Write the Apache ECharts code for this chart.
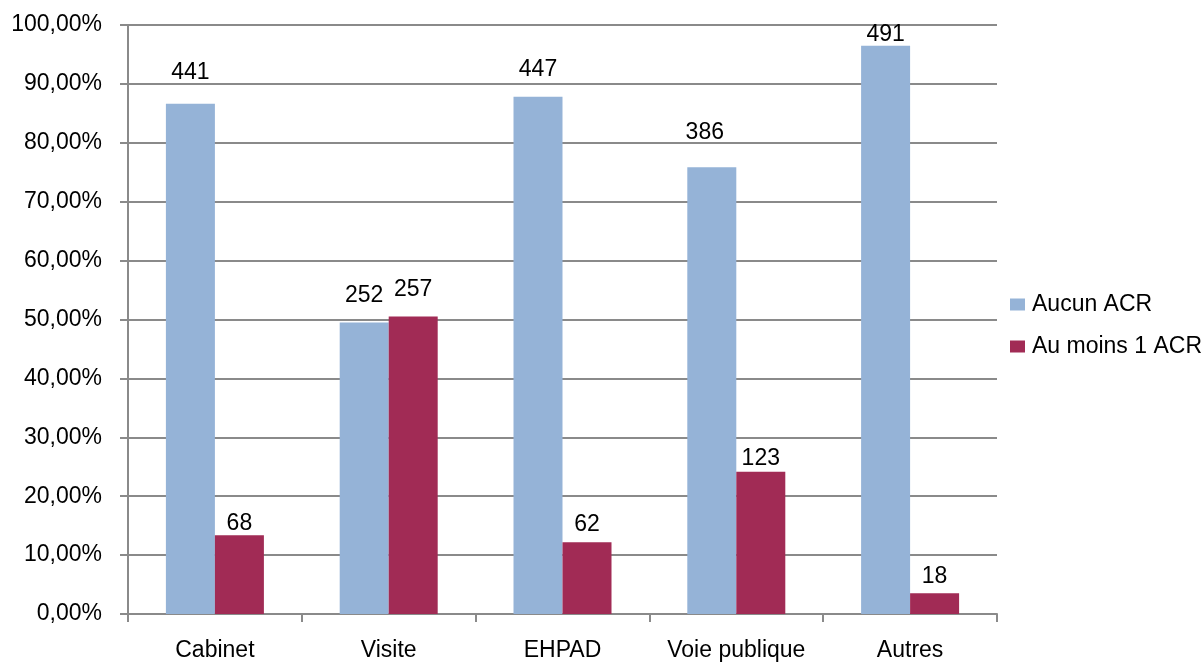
<!DOCTYPE html>
<html>
<head>
<meta charset="utf-8">
<script src="https://cdn.jsdelivr.net/npm/echarts@6/dist/echarts.min.js"></script>
<style>
html,body{margin:0;padding:0;background:#fff;}
#chart{width:1204px;height:662px;}
</style>
</head>
<body>
<div id="chart"></div>
<script>
// ---- data ----
const categories = ['Cabinet', 'Visite', 'EHPAD', 'Voie publique', 'Autres'];
const seriesNames = ['Aucun ACR', 'Au moins 1 ACR'];
const aucunPct = [86.64, 49.51, 87.82, 75.83, 96.46];
const auMoinsPct = [13.36, 50.49, 12.18, 24.17, 3.54];
const aucunCount = [441, 252, 447, 386, 491];
const auMoinsCount = [68, 257, 62, 123, 18];
const yTicks = [0, 10, 20, 30, 40, 50, 60, 70, 80, 90, 100];

// ---- styling (label placement as in the source) ----
const FONT = 'Liberation Sans';
const FS = 23;
const aucunLabelDist = [20, 15, 16, 23, 0];
const aucunLabelDx = [0, 0, 0, -7, 0];
const auMoinsLabelDist = [0.5, 15.5, 6.5, 1.5, 4.5];
const auMoinsLabelDx = [0, 0, 0, 0, 0];

function build(pct, counts, dist, dx) {
  return pct.map((v, i) => ({
    value: v,
    label: { distance: dist[i], offset: [dx[i], 0], formatter: String(counts[i]) }
  }));
}

const chart = echarts.init(document.getElementById('chart'), null, {renderer: 'canvas'});
const grey = '#8a8a8a';
chart.setOption({
  animation: false,
  backgroundColor: '#fff',
  textStyle: { fontFamily: FONT, color: '#000' },
  grid: { left: 128, right: 207, top: 25, bottom: 47, containLabel: false },
  legend: {
    orient: 'vertical', left: 1010, top: 293, itemGap: 19, padding: 0,
    itemWidth: 15, itemHeight: 12, icon: 'rect',
    textStyle: { fontFamily: FONT, fontSize: FS, color: '#000', padding: [0,0,0,2] },
    data: seriesNames
  },
  xAxis: {
    type: 'category', data: categories,
    axisLine: { lineStyle: { color: grey, width: 2 } },
    axisTick: { show: true, length: 8, alignWithLabel: false, lineStyle: { color: grey, width: 2 } },
    axisLabel: { fontFamily: FONT, fontSize: FS, color: '#000', margin: 25, interval: 0 }
  },
  yAxis: {
    type: 'value', min: yTicks[0], max: yTicks[yTicks.length - 1], interval: 10,
    axisLine: { show: true, lineStyle: { color: grey, width: 2 } },
    axisTick: { show: true, length: 8, lineStyle: { color: grey, width: 2 } },
    splitLine: { show: true, lineStyle: { color: grey, width: 2 } },
    axisLabel: { fontFamily: FONT, fontSize: FS, color: '#000', margin: 26,
      formatter: v => v.toFixed(2).replace('.', ',') + '%' }
  },
  series: [
    {
      name: seriesNames[0], type: 'bar', barWidth: 49, barGap: '0%',
      itemStyle: { color: '#95B3D7' },
      label: { show: true, position: 'top', fontFamily: FONT, fontSize: FS, color: '#000' },
      data: build(aucunPct, aucunCount, aucunLabelDist, aucunLabelDx)
    },
    {
      name: seriesNames[1], type: 'bar', barWidth: 49, barGap: '0%',
      itemStyle: { color: '#A12B55' },
      label: { show: true, position: 'top', fontFamily: FONT, fontSize: FS, color: '#000' },
      data: build(auMoinsPct, auMoinsCount, auMoinsLabelDist, auMoinsLabelDx)
    }
  ]
});
</script>
</body>
</html>
